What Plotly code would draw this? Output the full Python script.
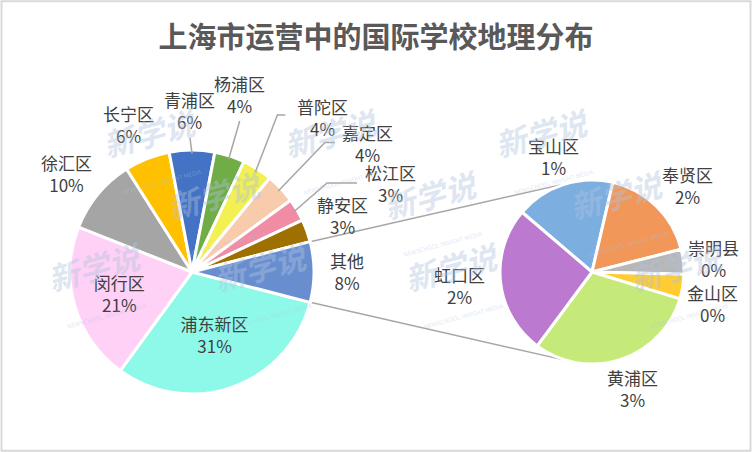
import math
import plotly.graph_objects as go

# main pie (clockwise from the slice right after "其他")
main_labels = ["浦东新区", "闵行区", "徐汇区", "长宁区", "青浦区", "杨浦区",
               "普陀区", "嘉定区", "松江区", "静安区", "其他"]
main_pct = [31, 21, 10, 6, 6, 4, 4, 4, 3, 3, 8]
main_colors = ["#8EF9E9", "#FFD1F6", "#A5A5A5", "#FFC000", "#4472C4", "#70AD47",
               "#F2F052", "#F8CBAD", "#F08CA3", "#9E7000", "#698ED0"]

# secondary pie: breakdown of "其他" (school counts), with the shown percentages
sub_labels = ["宝山区", "奉贤区", "崇明县", "金山区", "黄浦区", "虹口区"]
sub_counts = [4, 4, 1, 1, 7, 6]
sub_pct = [1, 2, 0, 0, 3, 2]
sub_colors = ["#7DAEE0", "#F1975A", "#B7B7B7", "#FFCD33", "#C5EA7A", "#BB7ACF"]

W, H = 752, 452
main_dom = dict(x=[70 / W, 314 / W], y=[58 / H, 302 / H])
sub_dom = dict(x=[500 / W, 684 / W], y=[88 / H, 272 / H])

FONT = "Noto Sans CJK SC"
label_font = dict(family=FONT, size=17, color="#404040")

# label offsets (px, from the slice's outer edge at its mid angle; None = inside label)
main_off = [None, None, (-31, -21), (-19, -34), (-2, -40), (10, -61),
            (65, -51), (87, -45), (93, -26), (36, -15), (33, 0)]
# leader lines: list of offsets from the edge point
main_leader = [None, None, None, None, [(-2, -12)], [(10, -35)],
               [(20, -54), (28, -54)], [(44, -46), (54, -46)],
               [(30, -27), (60, -27)], None, None]
sub_off = [(-10, -28), (31, -21), (30, -3), (30, 17), (12, 29), (-41, 3)]

# "其他" is centred at 3 o'clock
other_half = main_pct[-1] / sum(main_pct) * 360 / 2
sub_start = 139.5  # math angle of the 宝山区 leading edge

fig = go.Figure()
fig.add_trace(go.Pie(
    labels=main_labels, values=main_pct, sort=False, direction="clockwise",
    rotation=90 + other_half, domain=main_dom,
    marker=dict(colors=main_colors, line=dict(color="white", width=3)),
    texttemplate="%{label}<br>%{percent:.0%}",
    textposition=["inside" if o is None else "none" for o in main_off],
    insidetextorientation="horizontal",
    textfont=label_font, insidetextfont=label_font,
    showlegend=False, hoverinfo="label+value",
))
fig.add_trace(go.Pie(
    labels=sub_labels, values=sub_counts, sort=False, direction="clockwise",
    rotation=90 - sub_start, domain=sub_dom,
    marker=dict(colors=sub_colors, line=dict(color="white", width=3)),
    textposition="none",
    showlegend=False, hoverinfo="label+value",
))


def centre_radius(dom):
    cx = (dom["x"][0] + dom["x"][1]) / 2 * W
    cy = (dom["y"][0] + dom["y"][1]) / 2 * H
    r = min((dom["x"][1] - dom["x"][0]) * W, (dom["y"][1] - dom["y"][0]) * H) / 2
    return cx, cy, r


def mid_angles(vals, start):
    tot = sum(vals)
    out, cum = [], 0
    for v in vals:
        out.append(start - (cum + v / 2) / tot * 360)
        cum += v
    return out


def edge(cx, cy, r, ang):
    a = math.radians(ang)
    return cx + r * math.cos(a), cy + r * math.sin(a)   # y up (paper px)


mcx, mcy, mr = centre_radius(main_dom)
scx, scy, sr = centre_radius(sub_dom)

shapes = []
annotations = []

# connector lines between "其他" and the secondary pie
for sgn in (1, -1):
    x0, y0 = edge(mcx, mcy, mr, sgn * other_half)
    x1, y1 = edge(scx, scy, sr, sgn * 105)
    shapes.append(dict(type="line", xref="paper", yref="paper",
                       x0=x0 / W, y0=y0 / H, x1=x1 / W, y1=y1 / H,
                       line=dict(color="#A6A6A6", width=1.5), layer="below"))

# main pie outside labels + leader lines
m_ang = mid_angles(main_pct, -other_half)
for lab, p, ang, off, lead in zip(main_labels, main_pct, m_ang, main_off, main_leader):
    if off is None:
        continue
    ex, ey = edge(mcx, mcy, mr, ang)
    annotations.append(dict(x=(ex + off[0]) / W, y=(ey - off[1]) / H, xref="paper", yref="paper",
                            text=f"{lab}<br>{p}%", showarrow=False, font=label_font,
                            xanchor="center", yanchor="middle"))
    if lead:
        sx, sy = edge(mcx, mcy, mr * 0.97, ang)
        path = f"M {sx / W} {sy / H}"
        for dx, dy in lead:
            path += f" L {(ex + dx) / W} {(ey - dy) / H}"
        shapes.append(dict(type="path", xref="paper", yref="paper", path=path,
                           line=dict(color="#A6A6A6", width=1.5)))

# secondary pie labels
s_ang = mid_angles(sub_counts, sub_start)
for lab, p, ang, off in zip(sub_labels, sub_pct, s_ang, sub_off):
    ex, ey = edge(scx, scy, sr, ang)
    annotations.append(dict(x=(ex + off[0]) / W, y=(ey - off[1]) / H, xref="paper", yref="paper",
                            text=f"{lab}<br>{p}%", showarrow=False, font=label_font,
                            xanchor="center", yanchor="middle"))

shapes.append(dict(type="rect", xref="paper", yref="paper", x0=0.002, y0=0.003,
                   x1=0.998, y1=0.997, line=dict(color="#D9D9D9", width=2)))

# watermark positions (px from top-left)
wm_x = [95, 335, 605, 160, 435, 680, 40, 265, 515, 740]
wm_y = [95, 95, 95, 210, 210, 210, 335, 335, 335, 335]
for x, y in zip(wm_x, wm_y):
    annotations.append(dict(
        x=x / W, y=1 - y / H, xref="paper", yref="paper", showarrow=False,
        text="<b><i>新学说</i></b><br><span style='font-size:6px'>NEWSCHOOL INSIGHT MEDIA</span>",
        textangle=-15, font=dict(family=FONT, size=31, color="rgba(175,195,222,0.42)"),
    ))

fig.update_layout(
    width=W, height=H,
    margin=dict(l=0, r=0, t=0, b=0),
    paper_bgcolor="white", plot_bgcolor="white",
    title=dict(text="<b>上海市运营中的国际学校地理分布</b>", x=0.5, xanchor="center",
               y=1 - 38 / H, yanchor="middle",
               font=dict(family=FONT, size=29, color="#595959")),
    shapes=shapes, annotations=annotations,
)

fig.write_html("out.html", config={"displayModeBar": False},
               post_script="document.body.style.margin='0';")
